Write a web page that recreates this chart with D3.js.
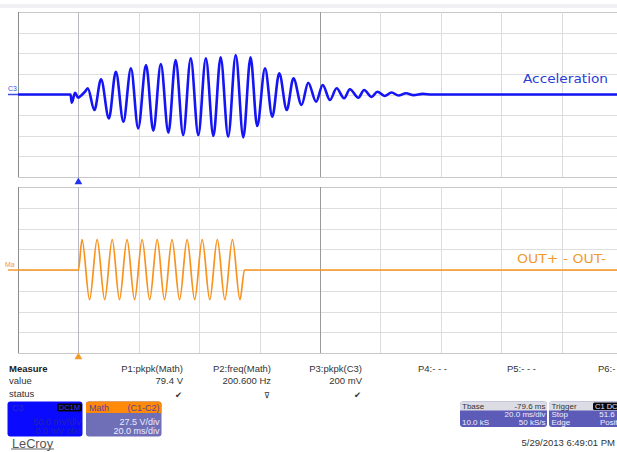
<!DOCTYPE html>
<html>
<head>
<meta charset="utf-8">
<script src="https://cdn.jsdelivr.net/npm/d3@7"></script>
<style>
  body { margin: 0; background: #fff; }
  svg { display: block; font-family: "Liberation Sans", Arial, sans-serif; }
</style>
</head>
<body>
<svg id="scope"></svg>
<script>
// C3 trace (acceleration), extrema: ms from trigger, mV
const accelTimeMs = [-20, -2.6, -2.2, -1.1, -0.1, 1.1, 2.2,
  3.1, 5.3, 7.5, 10.1, 12.4, 14.9, 17.4, 19.8, 22.4, 24.8, 27.3, 29.8, 32.2, 34.7,
  37.2, 39.7, 42.2, 44.7, 47.1, 49.6, 52.1, 54.6, 57.0, 59.2, 61.8, 64.2, 66.5, 69.0,
  71.2, 73.9, 76.1, 78.7, 80.9, 83.3, 85.5, 88.0, 89.9, 92.7, 94.6, 97.1, 99.0, 101.4,
  103.7, 106, 108.5, 111, 114, 117, 180];
const accelMv = [0, 0, -20, 4, -8, -1, 7,
  15.0, -37.6, 36.9, -57.8, 55.3, -66.0, 63.6, -82.0, 71.6, -87.9, 74.0, -92.7, 83.7, -98.3,
  87.9, -98.3, 87.9, -100.7, 90.3, -102.4, 95.9, -103.9, 90.3, -76.5, 63.6, -53.9, 51.5, -37.6,
  39.3, -25.5, 28.6, -17.5, 23.1, -13.3, 15.0, -9.2, 12.6, -7.8, 10.9, -6.1, 6.8, -3.6,
  4.9, -2.5, 3, -1.5, 1.5, 0, 0];

// math trace (OUT+ - OUT-): ms from trigger, volts
const outTimeMs = [-20, 0, 1.2, 3.7, 6.2, 8.7, 11.2, 13.6, 16.1, 18.6, 21.1, 23.6, 26.1,
  28.5, 31.0, 33.5, 36.0, 38.5, 41.0, 43.5, 46.0, 48.5, 51.0, 53.5, 55.0, 180];
const outVolts = [0, 0, 40.2, -39.2, 40.2, -39.2, 40.2, -39.2, 40.2, -39.2, 40.2, -39.2, 40.2,
  -39.2, 40.2, -39.2, 40.2, -39.2, 40.2, -39.2, 40.2, -39.2, 40.2, -39.2, 0, 0];

// screen settings
const timeDomain = [-20, 180];    // 20 ms/div, 10 divisions
const accelDomain = [-200, 200];  // 50.0 mV/div, 8 divisions
const outDomain = [-110, 110];    // 27.5 V/div, 8 divisions

const measureNames = ["P1:pkpk(Math)", "P2:freq(Math)", "P3:pkpk(C3)", "P4:- - -", "P5:- - -", "P6:- - -"];
const measureValues = ["79.4 V", "200.600 Hz", "200 mV", "", "", ""];
const measureStatus = ["\u2714", "\u22BD", "\u2714", "", "", ""];

const width = 617, height = 452;
const svg = d3.select("#scope").attr("width", width).attr("height", height);

const x = d3.scaleLinear().domain(timeDomain).range([18, 622]);
const yAccel = d3.scaleLinear().domain(accelDomain).range([177, 12]);
const yOut = d3.scaleLinear().domain(outDomain).range([353, 187]);

// faint strip at the very top of the screen
svg.append("rect").attr("x", 0).attr("y", 4).attr("width", width).attr("height", 4).attr("fill", "#f1f1f3");

function drawGrid(yScale, divs) {
  const g = svg.append("g");
  const [y0, y1] = yScale.range();
  const step = (yScale.domain()[1] - yScale.domain()[0]) / divs;
  const rows = d3.range(divs + 1).map((k) => yScale.domain()[0] + k * step);
  const cols = d3.range(11).map((k) => timeDomain[0] + k * 20);

  g.selectAll(".h").data(rows).join("line")
    .attr("x1", x.range()[0]).attr("x2", x.range()[1])
    .attr("y1", (d) => Math.round(yScale(d)) + 0.5).attr("y2", (d) => Math.round(yScale(d)) + 0.5)
    .attr("stroke", (d, i) => (i === 0 || i === divs ? "#c8c8c8" : "#dedede"));

  g.selectAll(".v").data(cols).join("line")
    .attr("x1", (d) => Math.round(x(d)) + 0.5).attr("x2", (d) => Math.round(x(d)) + 0.5)
    .attr("y1", y1).attr("y2", y0)
    .attr("stroke", (d, i) => (i === 0 ? "#8c8c8c" : i === 5 ? "#9a9a9a" : i === 1 ? "#b8b8c0" : "#dcdcdc"));
}

drawGrid(yAccel, 8);
drawGrid(yOut, 8);

// traces
const accelLine = d3.line()
  .x((d) => x(d[0]))
  .y((d) => yAccel(d[1]))
  .curve(d3.curveMonotoneX);
const outLine = d3.line()
  .x((d) => x(d[0]))
  .y((d) => yOut(d[1]))
  .curve(d3.curveMonotoneX);

svg.append("path")
  .datum(d3.zip(accelTimeMs, accelMv))
  .attr("d", accelLine)
  .attr("fill", "none")
  .attr("stroke", "#1414f5")
  .attr("stroke-width", 2.6)
  .attr("stroke-linejoin", "round");

svg.append("path")
  .datum(d3.zip(outTimeMs, outVolts))
  .attr("d", outLine)
  .attr("fill", "none")
  .attr("stroke", "#f7931e")
  .attr("stroke-width", 1.7)
  .attr("stroke-linejoin", "round");

// trace labels
svg.append("text").attr("x", 523).attr("y", 83)
  .attr("font-family", "DejaVu Sans, sans-serif").attr("font-size", 13)
  .attr("textLength", 85).attr("lengthAdjust", "spacingAndGlyphs")
  .attr("fill", "#2a3dd6").text("Acceleration");
svg.append("text").attr("x", 517).attr("y", 262.5)
  .attr("font-family", "DejaVu Sans, sans-serif").attr("font-size", 13)
  .attr("textLength", 89).attr("lengthAdjust", "spacingAndGlyphs")
  .attr("fill", "#f39a2c").text("OUT+ - OUT-");

// channel ground markers on the left edge
svg.append("text").attr("x", 8).attr("y", 90.5).attr("font-size", 7).attr("fill", "#3b4be0").text("C3");
svg.append("line").attr("x1", 8).attr("x2", 18).attr("y1", yAccel(0)).attr("y2", yAccel(0))
  .attr("stroke", "#3b4be0").attr("stroke-width", 1.5);
svg.append("text").attr("x", 5).attr("y", 267).attr("font-size", 7).attr("fill", "#f39a2c").text("Ma");
svg.append("line").attr("x1", 8).attr("x2", 18).attr("y1", yOut(0)).attr("y2", yOut(0))
  .attr("stroke", "#f39a2c").attr("stroke-width", 1.5);

// trigger position markers
const tri = d3.symbol().type(d3.symbolTriangle).size(26);
svg.append("path").attr("d", tri).attr("transform", `translate(${x(0)},182)`).attr("fill", "#2233ee");
svg.append("path").attr("d", tri).attr("transform", `translate(${x(0)},357)`).attr("fill", "#f39a2c");

// measurement table
const info = svg.append("g").attr("font-size", 9.5).attr("fill", "#333");
info.append("text").attr("x", 9).attr("y", 372).attr("font-weight", "bold").attr("fill", "#222").text("Measure");
info.append("text").attr("x", 9).attr("y", 383.5).text("value");
info.append("text").attr("x", 9).attr("y", 396.5).text("status");

const colAnchors = [[183, "end"], [271, "end"], [362, "end"], [418, "start"], [507, "start"], [598, "start"]];
measureNames.forEach((name, i) => {
  const [cx, anchor] = colAnchors[i];
  info.append("text").attr("x", cx).attr("y", 372).attr("text-anchor", anchor).text(name);
  info.append("text").attr("x", cx).attr("y", 383.5).attr("text-anchor", anchor).text(measureValues[i]);
  info.append("text").attr("x", cx - 1).attr("y", 397.5).attr("text-anchor", anchor)
    .attr("font-family", "DejaVu Sans, sans-serif").attr("font-size", 8.5).text(measureStatus[i]);
});

// descriptor boxes
function box(bx, by, bw, bh, headH, headFill, bodyFill, fontSize) {
  const g = svg.append("g");
  g.append("rect").attr("x", bx).attr("y", by).attr("width", bw).attr("height", bh)
    .attr("rx", 3).attr("fill", bodyFill);
  if (headH) {
    g.append("path")
      .attr("d", `M${bx},${by + headH}V${by + 3}Q${bx},${by} ${bx + 3},${by}H${bx + bw - 3}Q${bx + bw},${by} ${bx + bw},${by + 3}V${by + headH}Z`)
      .attr("fill", headFill);
  }
  return g.attr("font-size", fontSize);
}

const c3 = box(7.5, 401.5, 75, 35, 0, null, "#0a0aff", 9);
c3.append("text").attr("x", 12).attr("y", 410.5).attr("fill", "#2a2ab8").text("C3");
c3.append("rect").attr("x", 57).attr("y", 403.5).attr("width", 25).attr("height", 8).attr("rx", 2).attr("fill", "#050510");
c3.append("text").attr("x", 80).attr("y", 410.3).attr("text-anchor", "end").attr("font-size", 7.5).attr("fill", "#3a3aff").text("DC1M");
c3.append("text").attr("x", 81).attr("y", 425).attr("text-anchor", "end").attr("fill", "#2424b0").text("50.0 mV/div");
c3.append("text").attr("x", 81).attr("y", 434).attr("text-anchor", "end").attr("fill", "#2424b0").text("0.0 mV ofst");

const math = box(86, 401.5, 75.5, 35, 11.5, "#ff8a0a", "#6f6fb8", 9);
math.append("text").attr("x", 89).attr("y", 410.5).attr("fill", "#5b3c9c").text("Math");
math.append("text").attr("x", 159.5).attr("y", 410.5).attr("text-anchor", "end").attr("fill", "#5b3c9c").text("(C1-C2)");
math.append("text").attr("x", 159.5).attr("y", 424.5).attr("text-anchor", "end").attr("fill", "#ececff").text("27.5 V/div");
math.append("text").attr("x", 159.5).attr("y", 433.5).attr("text-anchor", "end").attr("fill", "#ececff").text("20.0 ms/div");

const tbase = box(460, 401.5, 87, 25.5, 9, "#dcdce4", "#5c5cb8", 8);
tbase.append("text").attr("x", 462).attr("y", 408.5).attr("fill", "#333").text("Tbase");
tbase.append("text").attr("x", 545.5).attr("y", 408.5).attr("text-anchor", "end").attr("fill", "#333").text("-79.6 ms");
tbase.append("text").attr("x", 545.5).attr("y", 417.3).attr("text-anchor", "end").attr("fill", "#f0f0ff").text("20.0 ms/div");
tbase.append("text").attr("x", 462).attr("y", 425).attr("fill", "#f0f0ff").text("10.0 kS");
tbase.append("text").attr("x", 545.5).attr("y", 425).attr("text-anchor", "end").attr("fill", "#f0f0ff").text("50 kS/s");

const trig = box(549, 401.5, 90, 25.5, 9, "#dcdce4", "#5c5cb8", 8);
trig.append("text").attr("x", 551.5).attr("y", 408.5).attr("fill", "#333").text("Trigger");
trig.append("rect").attr("x", 593).attr("y", 402.5).attr("width", 30).attr("height", 7.5).attr("rx", 1.5).attr("fill", "#08080c");
trig.append("text").attr("x", 595).attr("y", 408.8).attr("font-size", 7.5).attr("fill", "#e0e0ff").text("C1 DC");
trig.append("text").attr("x", 551.5).attr("y", 417.3).attr("fill", "#f0f0ff").text("Stop");
trig.append("text").attr("x", 629).attr("y", 417.3).attr("text-anchor", "end").attr("fill", "#f0f0ff").text("51.6 mV");
trig.append("text").attr("x", 551.5).attr("y", 425).attr("fill", "#f0f0ff").text("Edge");
trig.append("text").attr("x", 628).attr("y", 425).attr("text-anchor", "end").attr("fill", "#f0f0ff").text("Positive");

// footer
svg.append("text").attr("x", 615).attr("y", 445.5).attr("text-anchor", "end")
  .attr("font-size", 9.5).attr("fill", "#333").text("5/29/2013 6:49:01 PM");
svg.append("text").attr("x", 12).attr("y", 447.5).attr("font-size", 12.5).attr("fill", "#555")
  .attr("textLength", 41).attr("lengthAdjust", "spacingAndGlyphs").text("LeCroy");
svg.append("line").attr("x1", 11).attr("x2", 54).attr("y1", 449).attr("y2", 449).attr("stroke", "#666").attr("stroke-width", 1);
</script>
</body>
</html>
